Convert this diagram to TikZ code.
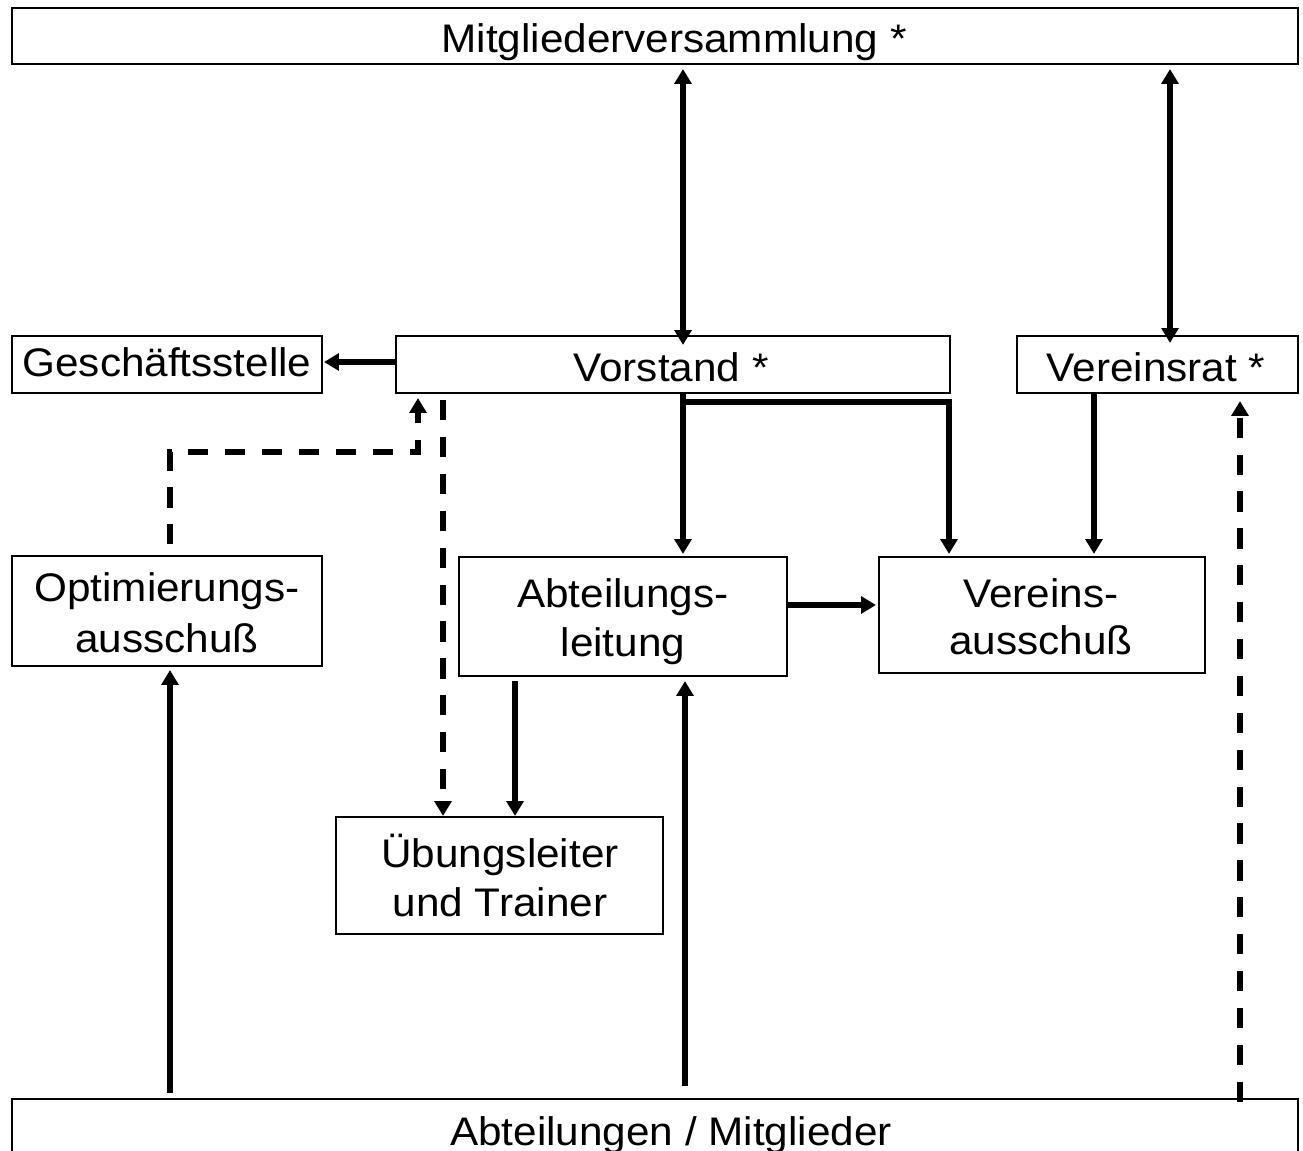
\documentclass[tikz,border=0pt]{standalone}
\usepackage{fontspec}
\setmainfont{Liberation Sans}[FakeStretch=1.06]
\usetikzlibrary{arrows.meta,calc,fit}
\newcommand\lblfont{\fontsize{22.7pt}{28.9pt}\selectfont}
\tikzset{
  box/.style={draw, line width=1.2pt, inner sep=0pt},
  con/.style={line width=3pt},
  arr/.style={con, -{Triangle[width=9.6pt,length=8.5pt]}},
  both/.style={con, {Triangle[width=9.6pt,length=8.5pt]}-{Triangle[width=9.6pt,length=8.5pt]}},
  dsh/.style={dash pattern=on 11.5pt off 9.5pt},
  lbl/.style={anchor=base, inner sep=0pt, font=\lblfont}
}
\begin{document}
\begin{tikzpicture}[x=0.02cm,y=-0.02cm]
\useasboundingbox (0,0) rectangle (1303,1151);
\clip (0,0) rectangle (1303,1151);
\fill[white] (0,0) rectangle (1303,1151);

% boxes
\node[box, fit={(12,8) (1298,64)}] (mv) {};
\node[box, fit={(12,336) (322,393)}] (ges) {};
\node[box, fit={(396,336) (950,393)}] (vor) {};
\node[box, fit={(1017,336) (1298,393)}] (vr) {};
\node[box, fit={(12,556) (322,666)}] (opt) {};
\node[box, fit={(459,557) (787,676)}] (abl) {};
\node[box, fit={(879,557) (1205,673)}] (va) {};
\node[box, fit={(336,817) (663,934)}] (ueb) {};
\node[box, fit={(12,1099) (1298,1180)}] (abt) {};

% labels
\node[lbl] (tmv) at (674,53) {Mitgliederversammlung *};
\node[lbl] (tges) at (167,377) {Geschäftsstelle};
\node[lbl] (tvor) at (671,382) {Vorstand *};
\node[lbl] (tvr) at (1156,382) {Vereinsrat *};
\node[lbl] (topt1) at (167,602) {Optimierungs-};
\node[lbl] (topt2) at (167,653) {ausschuß};
\node[lbl] (tabl1) at (623,608) {Abteilungs-};
\node[lbl] (tabl2) at (623,657) {leitung};
\node[lbl] (tva1) at (1041,608) {Vereins-};
\node[lbl] (tva2) at (1041,655) {ausschuß};
\node[lbl] (tueb1) at (500,868) {Übungsleiter};
\node[lbl] (tueb2) at (500,917) {und Trainer};
\node[lbl] (tabt) at (671,1146) {Abteilungen / Mitglieder};

% helper coordinates
\coordinate (xA) at (683,0);
\coordinate (xB) at (1170,0);
\coordinate (xC) at (949,0);
\coordinate (xD) at (1094,0);
\coordinate (xF) at (515,0);
\coordinate (xH) at (443,0);
\coordinate (xI) at (170,0);
\coordinate (xK) at (418,0);
\coordinate (xL) at (685,0);
\coordinate (xM) at (1240,0);
\coordinate (yG) at (0,362);
\coordinate (yE) at (0,605);
\coordinate (yJ) at (0,452);

% connectors
\draw[both] ($(mv.south -| xA)+(0,4)$) -- ($(vor.north -| xA)+(0,10)$);
\draw[both] ($(mv.south -| xB)+(0,4)$) -- ($(vr.north -| xB)+(0,8)$);
\draw[arr] (vor.west |- yG) -- ($(ges.east |- yG)+(1,0)$);
\draw[arr] (vor.south -| xA) -- ($(abl.north -| xA)+(0,-2)$);
\draw[arr] ($(vor.south -| xA)+(0,8)$) -| ($(va.north -| xC)+(0,-2)$);
\draw[arr] (vr.south -| xD) -- ($(va.north -| xD)+(0,-2)$);
\draw[arr] (abl.east |- yE) -- ($(va.west |- yE)+(-2,0)$);
\draw[arr] ($(abl.south -| xF)+(0,4)$) -- (ueb.north -| xF);
\draw[arr, dsh] ($(vor.south -| xH)+(0,6)$) -- (ueb.north -| xH);
\draw[arr, dsh, dash phase=15pt] (opt.north -| xI) |- (yJ -| xK) -- ($(vor.south -| xK)+(0,4)$);
\draw[arr] ($(abt.north -| xI)+(0,-5)$) -- ($(opt.south -| xI)+(0,3)$);
\draw[arr] ($(abt.north -| xL)+(0,-12)$) -- ($(abl.south -| xL)+(0,4)$);
\draw[arr, dsh] ($(abt.north -| xM)+(0,4)$) -- ($(vr.south -| xM)+(0,7)$);
\end{tikzpicture}
\end{document}
